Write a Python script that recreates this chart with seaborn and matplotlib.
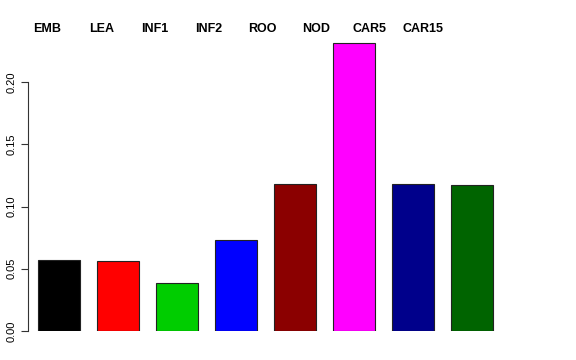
import numpy as np
import pandas as pd
import matplotlib
matplotlib.use("Agg")
import matplotlib.pyplot as plt
import seaborn as sns

# --- data ---
tissues = ["EMB", "LEA", "INF1", "INF2", "ROO", "NOD", "CAR5", "CAR15"]
values = [0.057, 0.0565, 0.0385, 0.0728, 0.118, 0.2313, 0.1182, 0.1175]
colours = ["#000000", "#FF0000", "#00CD00", "#0000FF",
           "#8B0000", "#FF00FF", "#00008B", "#006400"]

df = pd.DataFrame({"tissue": tissues, "value": values})

sns.set_theme(style="white")
plt.rcParams["font.family"] = ["Liberation Sans", "DejaVu Sans"]
plt.rcParams["text.color"] = "black"
plt.rcParams["ytick.color"] = "black"

W, H = 576, 360
fig = plt.figure(figsize=(W / 100, H / 100), dpi=100)
# axes placed in pixel terms: spine at x=28, y=0 at 331, top at 40
ax = fig.add_axes([28 / W, (H - 331) / H, (548 - 28) / W, (331 - 40) / H])

sns.barplot(data=df, x="tissue", y="value", hue="tissue",
            palette=dict(zip(tissues, colours)), legend=False, saturation=1,
            width=0.71, edgecolor="#222222", linewidth=0.8, ax=ax)

step = 59.0
ax.set_xlim((28 - 59) / step, (548 - 59) / step)
ax.set_ylim(0, (331 - 40) / 1245)
ax.set_xticks([])
ax.set_xlabel("")
ax.set_ylabel("")
ax.set_yticks([0.0, 0.05, 0.10, 0.15, 0.20])
ax.set_yticklabels(["0.00", "0.05", "0.10", "0.15", "0.20"],
                   rotation=90, va="center", fontsize=8, color="black")
ax.tick_params(axis="y", direction="out", length=5, width=0.8,
               color="#333333", pad=3, left=True)
for s in ["top", "right", "bottom"]:
    ax.spines[s].set_visible(False)
ax.spines["left"].set_bounds(0, 0.20)
ax.spines["left"].set_color("#333333")
ax.spines["left"].set_linewidth(0.8)

# tissue names along the top
for i, name in enumerate(tissues):
    fig.text((47.5 + 53.7 * i) / W, 1 - 29 / H, name, ha="center",
             va="center", fontsize=9, fontweight="bold", color="black")

fig.savefig("out.png", dpi=100, facecolor="white")
